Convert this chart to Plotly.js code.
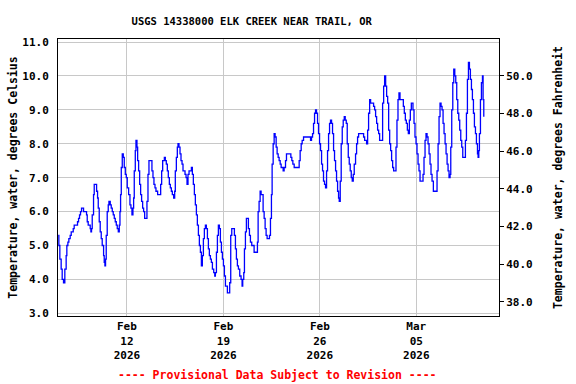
<!DOCTYPE html>
<html>
<head>
<meta charset="utf-8">
<script src="https://cdn.plot.ly/plotly-3.0.1.min.js"></script>
<style>html,body{margin:0;padding:0;background:#fff;}#chart{width:576px;height:384px;}</style>
</head>
<body>
<div id="chart"></div>
<script>
// ---- DATA ----
const chartTitle = "USGS 14338000 ELK CREEK NEAR TRAIL, OR";
const leftTitle = "Temperature, water, degrees Celsius";
const rightTitle = "Temperature, water, degrees Fahrenheit";
const provisionalNote = "---- Provisional Data Subject to Revision ----";
const startTime = "2026-02-07T00:00:00Z";   // time origin of hoursSinceStart
const xRange = ["2026-02-07 00:00", "2026-03-11 00:00"];
const tickDates = ["2026-02-12", "2026-02-19", "2026-02-26", "2026-03-05"];
const tickLabels = ["Feb<br>12<br>2026", "Feb<br>19<br>2026", "Feb<br>26<br>2026", "Mar<br>05<br>2026"];
const celsiusRange = [2.92, 11.09];

const hoursSinceStart = [
  0.3,1.5,3.2,5.5,7.3,9.6,11.3,11.9,14.2,15.4,17.2,18.9,21.2,23.0,26.5,28.2,32.3,34.0,35.8,37.5,39.2,41.0,43.3,44.5,48.0,49.7,50.9,52.6,54.9,56.1,57.3,58.4,59.6,61.9,63.1,66.0,67.2,68.9,70.1,71.8,73.5,75.3,77.0,79.4,80.5,81.7,82.8,84.0,85.7,87.5,88.7,91.0,92.7,94.5,96.2,98.0,99.7,101.5,103.2,105.0,106.7,107.9,109.0,110.2,111.9,113.7,115.4,117.2,118.9,120.6,123.0,125.3,127.0,128.8,130.5,131.7,132.8,134.6,135.8,137.5,138.7,140.4,142.2,143.9,145.6,147.4,149.1,150.9,
  152.6,154.9,156.7,158.4,161.9,163.6,165.4,167.1,168.9,170.6,173.5,177.0,178.8,180.5,182.3,185.2,186.9,188.6,190.4,192.1,193.9,195.6,197.4,199.1,201.4,203.2,204.3,206.1,207.8,209.0,210.7,212.5,214.2,216.0,217.7,221.2,223.0,224.7,226.4,228.2,230.5,232.3,234.0,235.7,237.5,239.2,241.0,242.7,244.5,246.2,248.0,249.7,251.4,253.2,254.9,256.7,258.4,260.2,261.9,263.6,265.4,267.1,268.9,271.2,273.0,274.1,275.9,277.6,279.3,281.1,282.8,284.6,286.3,288.1,289.8,291.6,293.3,295.0,
  297.5,299.0,300.8,302.6,305.5,307.2,309.0,310.7,312.4,314.2,316.5,318.8,320.6,321.7,323.5,324.7,326.4,328.1,331.6,333.4,335.1,337.4,341.5,345.6,347.3,348.5,350.2,352.0,353.7,357.2,359.0,360.7,362.4,364.2,366.5,368.3,370.0,371.7,372.9,374.7,376.4,378.1,379.9,381.6,383.4,385.1,386.9,388.6,392.1,393.8,396.2,397.9,403.7,405.5,407.2,409.0,411.3,418.3,420.0,421.7,423.5,425.2,427.6,438.6,439.8,441.5,443.3,445.0,446.8,448.5,450.2,452.0,453.7,455.5,457.2,459.0,460.7,462.4,464.2,465.9,
  467.7,469.4,471.2,472.9,474.6,476.4,478.1,479.9,481.6,483.4,485.1,486.9,488.6,489.8,491.5,493.2,495.0,496.7,498.5,500.2,502.0,503.7,505.5,507.2,508.9,510.7,512.4,514.2,515.9,518.2,520.0,521.7,523.5,530.5,532.2,534.0,537.4,539.2,540.9,542.7,544.4,547.9,549.6,551.4,553.1,554.9,556.6,558.4,560.1,563.6,565.3,567.1,568.8,570.6,572.3,574.1,575.8,577.6,579.3,581.0,582.8,584.5,587.4,588.6,590.3,592.1,593.8,595.6,599.6,601.4,603.1,604.9,606.6,608.4,610.1,611.9,613.6,615.3,
  618.2,620.0,621.7,623.5,625.2,627.0,628.7,630.5,634.0,635.7,637.4,639.2,640.9,642.7,644.4,646.2,647.9,649.6,651.4,653.7,658.4,660.1,661.9,663.6,665.3,667.1,668.8,670.6,672.3,674.1,675.8,677.6,679.3,681.0,682.8,684.0,685.7,687.5,689.2,691.0,692.7,694.4,696.2,697.9,699.6,701.4,703.1,704.9,707.8,709.5,711.3,713.0,714.8,716.5,718.2,720.0,721.7,723.5,725.2,727.0,728.7,730.5,731.6,732.8,733.9,735.7,737.4,739.2,740.3,741.5
];
const tempC = [
  5.3,5.0,4.6,4.3,4.0,3.9,3.9,4.3,4.7,5.0,5.1,5.2,5.3,5.4,5.5,5.6,5.6,5.7,5.8,5.9,6.0,6.1,6.1,6.0,6.0,5.9,5.7,5.6,5.6,5.5,5.4,5.5,5.9,6.5,6.8,6.8,6.6,6.4,6.1,5.7,5.4,5.2,5.0,4.7,4.5,4.4,4.6,5.3,6.0,6.2,6.3,6.2,6.1,6.0,5.9,5.8,5.7,5.6,5.5,5.4,5.6,6.0,6.5,7.3,7.7,7.6,7.3,7.1,7.0,6.7,6.5,6.2,6.1,5.9,6.1,6.4,7.2,7.8,8.1,7.9,7.5,7.2,6.8,6.5,6.3,6.1,6.0,5.8,
  5.8,6.3,7.1,7.5,7.5,7.2,7.0,6.8,6.7,6.6,6.5,6.5,6.8,7.2,7.5,7.6,7.5,7.4,7.2,7.0,6.8,6.7,6.6,6.5,6.4,6.6,7.2,7.6,7.9,8.0,7.9,7.7,7.5,7.4,7.2,7.1,7.0,6.8,7.1,7.2,7.2,7.3,7.1,6.8,6.5,6.2,5.9,5.6,5.3,5.0,4.8,4.4,4.7,5.2,5.5,5.6,5.5,5.2,4.9,4.7,4.6,4.5,4.3,4.2,4.1,4.2,4.8,5.3,5.6,5.5,5.1,4.8,4.6,4.4,4.1,3.8,3.8,3.6,
  3.6,3.9,5.3,5.5,5.5,5.3,4.9,4.6,4.4,4.3,4.1,4.0,3.8,4.0,4.2,4.9,5.4,5.8,5.5,5.3,5.1,5.0,4.8,4.8,5.1,6.0,6.3,6.6,6.5,6.0,5.8,5.5,5.3,5.2,5.2,5.3,5.8,6.5,7.4,8.0,8.3,8.2,7.9,7.7,7.6,7.5,7.4,7.3,7.2,7.3,7.5,7.7,7.7,7.6,7.5,7.4,7.3,7.3,7.5,7.8,8.0,8.1,8.2,8.2,8.1,8.2,8.3,8.6,8.9,9.0,8.9,8.6,8.3,8.0,7.8,7.4,7.2,6.9,6.8,6.7,
  7.2,7.8,8.3,8.6,8.7,8.6,8.3,7.8,7.5,7.2,6.9,6.6,6.4,6.3,6.9,8.0,8.5,8.7,8.8,8.7,8.6,8.0,7.6,7.4,7.2,7.0,6.9,7.1,7.4,7.7,8.0,8.2,8.3,8.3,8.2,8.1,8.0,8.4,8.9,9.3,9.2,9.2,9.1,9.0,8.8,8.6,8.4,8.3,8.1,8.1,9.2,9.7,10.0,9.7,9.4,9.2,8.4,8.0,7.8,7.5,7.3,7.2,7.2,7.9,8.7,9.3,9.5,9.3,9.3,9.1,8.9,8.7,8.6,8.4,8.3,8.7,9.0,9.2,
  9.0,8.6,8.2,8.0,7.7,7.4,7.2,6.9,6.9,7.1,7.6,8.1,8.3,8.2,8.0,7.7,7.4,7.1,6.9,6.6,6.6,7.2,8.0,8.8,9.2,9.1,9.0,8.6,8.3,8.0,7.7,7.4,7.2,7.0,7.1,7.9,9.0,9.8,10.2,10.0,9.8,9.3,8.9,8.7,8.4,8.1,7.9,7.6,7.6,8.1,8.9,9.9,10.4,10.2,9.9,9.6,9.3,8.9,8.5,8.3,8.0,7.7,7.6,7.8,8.3,9.3,9.8,10.0,9.3,8.8
];

// ---- BUILD ----
const t0 = Date.parse(startTime);
const times = hoursSinceStart.map(h => new Date(t0 + h * 3600000).toISOString().slice(0, 16).replace("T", " "));
const toF = c => c * 1.8 + 32;

const mono = "DejaVu Sans Mono, Liberation Mono, monospace";
const tickFont = {family: mono, size: 11, color: "#000", weight: "bold"};

const trace = {
  x: times, y: tempC, type: "scatter", mode: "lines",
  line: {color: "#0000ff", width: 1.3, shape: "hv"},
  hoverinfo: "skip", showlegend: false
};
// same series in Fahrenheit on the right axis (fully transparent; it only anchors the axis)
const traceF = {
  x: times, y: tempC.map(toF), type: "scatter", mode: "lines", yaxis: "y2",
  line: {color: "rgba(0,0,0,0)", width: 0}, hoverinfo: "skip", showlegend: false
};

const layout = {
  width: 576, height: 384,
  margin: {l: 58, r: 77, t: 39, b: 68, pad: 0},
  paper_bgcolor: "#fff", plot_bgcolor: "#fff",
  showlegend: false,
  title: {text: chartTitle, font: {family: mono, size: 10.5, color: "#000", weight: "bold"},
          x: 0.437, xref: "container", xanchor: "center", y: 0.945, yanchor: "middle"},
  xaxis: {
    type: "date", range: xRange, tickmode: "array", tickvals: tickDates, ticktext: tickLabels,
    showgrid: true, gridcolor: "#c8c8c8", gridwidth: 1,
    showline: true, linecolor: "#000", linewidth: 1, mirror: true,
    ticks: "", tickfont: tickFont, zeroline: false, fixedrange: true
  },
  yaxis: {
    range: celsiusRange, dtick: 1, tick0: 3, tickformat: ".1f",
    showgrid: true, gridcolor: "#c8c8c8", gridwidth: 1,
    showline: true, linecolor: "#000", linewidth: 1, mirror: true,
    ticks: "outside", ticklen: 6, tickcolor: "rgba(0,0,0,0)", tickfont: tickFont, zeroline: false,
    title: {text: leftTitle, font: {family: mono, size: 11.5, color: "#000", weight: "bold"}, standoff: 2}
  },
  yaxis2: {
    overlaying: "y", side: "right", anchor: "x",
    range: celsiusRange.map(toF), dtick: 2, tick0: 38, tickformat: ".1f",
    showgrid: false, zeroline: false, showline: false,
    ticks: "outside", ticklen: 4, tickcolor: "#000", tickwidth: 1, tickfont: tickFont,
    title: {text: rightTitle, font: {family: mono, size: 11.5, color: "#000", weight: "bold"}, standoff: 22}
  },
  annotations: [{
    text: provisionalNote, xref: "paper", yref: "paper", x: 0.498, y: -0.213,
    xanchor: "center", yanchor: "middle", showarrow: false,
    font: {family: mono, size: 11.5, color: "#ff0000", weight: "bold"}
  }]
};

Plotly.newPlot("chart", [traceF, trace], layout, {staticPlot: true, displayModeBar: false});
</script>
</body>
</html>
